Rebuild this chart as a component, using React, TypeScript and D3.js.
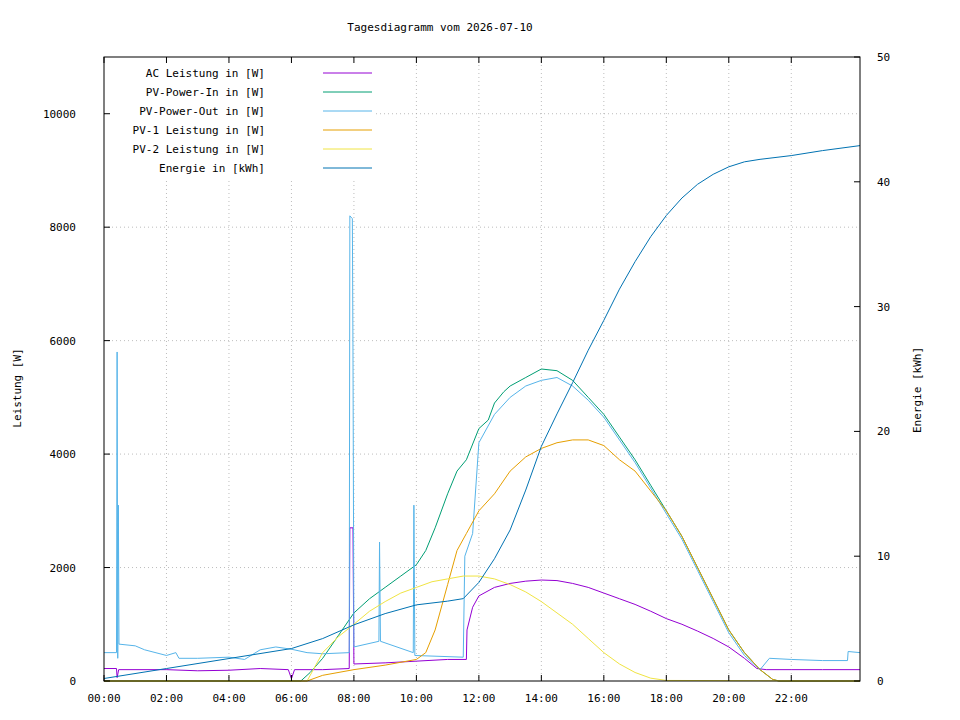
import React, { useEffect, useRef } from 'react';
import * as d3 from 'd3';

type Pt = [number, number];

const title = 'Tagesdiagramm vom 2026-07-10';
const xTickLabels = ['00:00', '02:00', '04:00', '06:00', '08:00', '10:00', '12:00', '14:00', '16:00', '18:00', '20:00', '22:00'];
const yTicks = [0, 2000, 4000, 6000, 8000, 10000];
const y2Ticks = [0, 10, 20, 30, 40, 50];

// hour of day, watts
const acLeistung: Pt[] = [
  [0, 220], [0.4, 220], [0.42, 60], [0.47, 200], [2, 200], [3, 180], [4, 190], [5, 220], [5.9, 200], [6.0, 40], [6.1, 200],
  [7, 200], [7.85, 220], [7.87, 2700], [7.97, 2700], [8.0, 300], [9, 320], [10, 350], [11, 380], [11.6, 380], [11.62, 900],
  [11.8, 1300], [12, 1500], [12.5, 1650], [13, 1720], [13.5, 1760], [14, 1780], [14.5, 1770], [15, 1720], [15.5, 1650],
  [16, 1550], [16.5, 1450], [17, 1350], [17.5, 1230], [18, 1100], [18.5, 1000], [19, 880], [19.5, 750], [20, 600],
  [20.5, 400], [20.9, 220], [21.2, 200], [22, 200], [23, 200], [24.2, 200],
];
const pvPowerIn: Pt[] = [
  [0, 0], [6.3, 0], [6.6, 150], [7, 400], [7.5, 800], [8, 1200], [8.5, 1450], [9, 1650], [9.5, 1850], [10, 2050],
  [10.3, 2300], [10.6, 2700], [11, 3300], [11.3, 3700], [11.6, 3900], [12, 4450], [12.3, 4600], [12.5, 4900],
  [12.8, 5100], [13, 5200], [13.5, 5350], [14, 5500], [14.5, 5470], [15, 5300], [15.5, 5000], [16, 4700],
  [16.5, 4300], [17, 3900], [17.5, 3450], [18, 3000], [18.5, 2550], [19, 2000], [19.5, 1450], [20, 900],
  [20.5, 500], [21, 200], [21.4, 30], [21.6, 0], [24.2, 0],
];
const pvPowerOut: Pt[] = [
  [0, 500], [0.4, 500], [0.42, 5800], [0.44, 400], [0.46, 3100], [0.48, 650], [1, 620], [1.3, 550], [2, 450],
  [2.3, 500], [2.4, 400], [3, 400], [4, 420], [4.5, 380], [5, 550], [5.5, 600], [6, 560], [6.5, 500], [7, 480],
  [7.85, 500], [7.87, 8200], [7.95, 8150], [7.97, 5800], [8.0, 600], [8.8, 700], [8.82, 2450], [8.85, 700],
  [9.9, 500], [9.92, 3100], [9.95, 450], [11.5, 420], [11.55, 2200], [11.8, 2600], [12, 4200], [12.5, 4700],
  [13, 5000], [13.5, 5200], [14, 5300], [14.5, 5350], [15, 5200], [15.5, 4950], [16, 4650], [16.5, 4250],
  [17, 3850], [17.5, 3400], [18, 2950], [18.5, 2500], [19, 1950], [19.5, 1400], [20, 850], [20.5, 450],
  [21, 200], [21.3, 400], [22, 380], [23, 360], [23.8, 360], [23.82, 520], [24.2, 500],
];
const pv1Leistung: Pt[] = [
  [0, 0], [6.5, 0], [7, 100], [8, 200], [9, 280], [10, 380], [10.3, 500], [10.6, 900], [11, 1700], [11.3, 2300],
  [11.6, 2600], [12, 3000], [12.5, 3300], [13, 3700], [13.5, 3950], [14, 4100], [14.5, 4200], [15, 4250],
  [15.5, 4250], [16, 4150], [16.5, 3900], [17, 3700], [17.5, 3350], [18, 3000], [18.5, 2550], [19, 2000],
  [19.5, 1450], [20, 900], [20.5, 500], [21, 200], [21.4, 30], [21.6, 0], [24.2, 0],
];
const pv2Leistung: Pt[] = [
  [0, 0], [6.5, 0], [7, 500], [7.5, 780], [8, 1000], [8.5, 1230], [9, 1400], [9.5, 1550], [10, 1650], [10.5, 1750],
  [11, 1800], [11.5, 1850], [12, 1850], [12.5, 1800], [13, 1700], [13.5, 1570], [14, 1400], [14.5, 1200],
  [15, 1000], [15.5, 750], [16, 500], [16.5, 300], [17, 150], [17.5, 50], [18, 10], [24.2, 0],
];
// hour of day, kWh
const energie: Pt[] = [
  [0, 0.2], [2, 1.0], [4, 1.8], [6, 2.6], [7, 3.4], [8, 4.5], [9, 5.4], [10, 6.1], [11, 6.4], [11.5, 6.6],
  [12, 7.9], [12.5, 9.8], [13, 12.1], [13.5, 15.3], [14, 18.8], [14.5, 21.4], [15, 23.9], [15.5, 26.5],
  [16, 28.9], [16.5, 31.4], [17, 33.6], [17.5, 35.6], [18, 37.3], [18.5, 38.7], [19, 39.8], [19.5, 40.6],
  [20, 41.2], [20.5, 41.6], [21, 41.8], [22, 42.1], [23, 42.5], [24.2, 42.9],
];

const seriesNames = ['AC Leistung in [W]', 'PV-Power-In in [W]', 'PV-Power-Out in [W]', 'PV-1 Leistung in [W]', 'PV-2 Leistung in [W]', 'Energie in [kWh]'];
const seriesColors = ['#9400d3', '#009e73', '#56b4e9', '#e69f00', '#f0e442', '#0072b2'];
const seriesData = [acLeistung, pvPowerIn, pvPowerOut, pv1Leistung, pv2Leistung, energie];

const App: React.FC = () => {
  const svgRef = useRef<SVGSVGElement | null>(null);

  useEffect(() => {
    if (!svgRef.current) return;
    const svg = d3.select(svgRef.current).html('');
    const font = 'DejaVu Sans Mono, monospace';
    const left = 104, right = 860, top = 57, bottom = 681;

    const x = d3.scaleLinear().domain([0, 24.2]).range([left, right]);
    const y = d3.scaleLinear().domain([0, 11000]).range([bottom, top]);
    const y2 = d3.scaleLinear().domain([0, 50]).range([bottom, top]);

    svg.append('rect').attr('width', 960).attr('height', 720).attr('fill', '#fff');

    // grid
    const grid = svg.append('g').attr('stroke', '#a0a0a0').attr('stroke-width', 0.7).attr('stroke-dasharray', '1,3');
    xTickLabels.forEach((_, i) => {
      if (i === 0) return;
      grid.append('line').attr('x1', x(i * 2)).attr('x2', x(i * 2)).attr('y1', top).attr('y2', bottom);
    });
    yTicks.forEach(t => {
      if (t === 0) return;
      grid.append('line').attr('x1', left).attr('x2', right).attr('y1', y(t)).attr('y2', y(t));
    });

    // lines
    seriesData.forEach((data, i) => {
      const ys = i === 5 ? y2 : y;
      const line = d3.line<Pt>().x(d => x(d[0])).y(d => ys(d[1]));
      svg.append('path').datum(data).attr('fill', 'none').attr('stroke', seriesColors[i])
        .attr('stroke-width', 1).attr('d', line);
    });

    // legend box
    svg.append('rect').attr('x', 106).attr('y', 60).attr('width', 270).attr('height', 118).attr('fill', '#fff');

    // border and ticks
    svg.append('rect').attr('x', left).attr('y', top).attr('width', right - left).attr('height', bottom - top)
      .attr('fill', 'none').attr('stroke', '#000').attr('stroke-width', 1);
    const tk = svg.append('g').attr('stroke', '#000').attr('stroke-width', 1);
    const txt = svg.append('g').attr('font-family', font).attr('font-size', 11).attr('fill', '#000');
    xTickLabels.forEach((lab, i) => {
      const xp = x(i * 2);
      tk.append('line').attr('x1', xp).attr('x2', xp).attr('y1', bottom).attr('y2', bottom - 6);
      tk.append('line').attr('x1', xp).attr('x2', xp).attr('y1', top).attr('y2', top + 6);
      txt.append('text').attr('x', xp).attr('y', 702).attr('text-anchor', 'middle').text(lab);
    });
    yTicks.forEach(t => {
      tk.append('line').attr('x1', left).attr('x2', left + 6).attr('y1', y(t)).attr('y2', y(t));
      txt.append('text').attr('x', 76).attr('y', y(t) + 4).attr('text-anchor', 'end').text(t);
    });
    y2Ticks.forEach(t => {
      tk.append('line').attr('x1', right).attr('x2', right - 6).attr('y1', y2(t)).attr('y2', y2(t));
      txt.append('text').attr('x', 877).attr('y', y2(t) + 4).text(t);
    });
    txt.append('text').attr('x', 440).attr('y', 31).attr('text-anchor', 'middle').text(title);
    txt.append('text').attr('transform', 'translate(21,388) rotate(-90)').attr('text-anchor', 'middle').text('Leistung [W]');
    txt.append('text').attr('transform', 'translate(921,390) rotate(-90)').attr('text-anchor', 'middle').text('Energie [kWh]');

    seriesNames.forEach((name, i) => {
      const ly = 73 + i * 19;
      txt.append('text').attr('x', 265).attr('y', ly + 4).attr('text-anchor', 'end').text(name);
      svg.append('line').attr('x1', 323).attr('x2', 372).attr('y1', ly).attr('y2', ly)
        .attr('stroke', seriesColors[i]).attr('stroke-width', 1);
    });
  }, []);

  return <svg ref={svgRef} width={960} height={720} style={{ display: 'block', margin: '-8px' }} />;
};

export default App;
